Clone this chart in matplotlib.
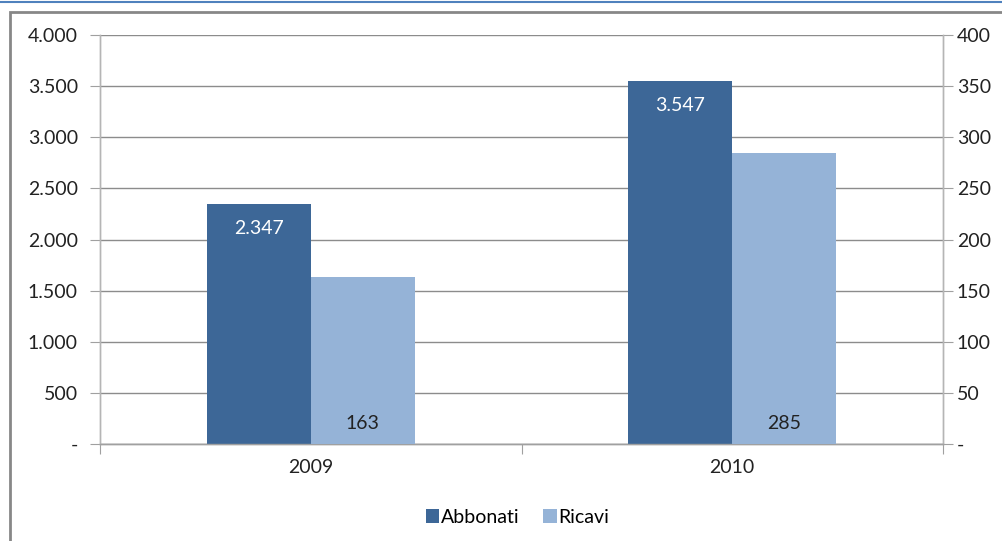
import matplotlib.pyplot as plt
import matplotlib.patches as patches
from matplotlib.ticker import FuncFormatter, MultipleLocator
import numpy as np

plt.rcParams['font.family'] = ['Lato', 'DejaVu Sans']

years = ['2009', '2010']
abbonati = [2347, 3547]
ricavi = [163, 285]

col_abb = '#3d6797'
col_ric = '#95b3d7'
grid_col = '#8c8c8c'
fs = 14


def fmt_it(v, pos):
    if abs(v) < 1e-9:
        return '-'
    return f'{v:,.0f}'.replace(',', '.')


fig = plt.figure(figsize=(10.03, 5.41), dpi=100)
ax = fig.add_axes([0.0997, 0.1793, 0.8405, 0.756])
ax2 = ax.twinx()

x = np.arange(len(years))
w = 0.247
b1 = ax.bar(x - w / 2, abbonati, w, color=col_abb, label='Abbonati', zorder=3)
b2 = ax2.bar(x + w / 2, ricavi, w, color=col_ric, label='Ricavi', zorder=3)

ax.set_xlim(-0.5, len(years) - 0.5)
ax.set_ylim(0, 4000)
ax2.set_ylim(0, 400)
ax.yaxis.set_major_locator(MultipleLocator(500))
ax2.yaxis.set_major_locator(MultipleLocator(50))
ax.yaxis.set_major_formatter(FuncFormatter(fmt_it))
ax2.yaxis.set_major_formatter(FuncFormatter(fmt_it))
ax.yaxis.grid(True, color=grid_col, linewidth=1, zorder=0)
ax.set_axisbelow(True)

ax.set_xticks([-0.5, 0.5, 1.5], minor=False)
ax.set_xticklabels([])
ax.set_xticks(x, minor=True)
ax.set_xticklabels(years, minor=True)
ax.tick_params(axis='x', which='major', length=7, color='#a0a0a0', direction='out')
ax.tick_params(axis='x', which='minor', length=0, labelsize=fs, pad=11, colors='#222222')
ax.tick_params(axis='y', length=7, color='#a0a0a0', labelsize=fs, pad=9, colors='#222222')
ax2.tick_params(axis='y', length=7, color='#a0a0a0', labelsize=fs, pad=3, colors='#222222')

for a in (ax, ax2):
    a.spines['top'].set_visible(False)
    a.spines['left'].set_color('#b5b5b5')
    a.spines['right'].set_color('#b5b5b5')
    a.spines['bottom'].set_color('#a0a0a0')
    for s in a.spines.values():
        s.set_linewidth(1)

for rect, v in zip(b1, abbonati):
    ax.annotate(fmt_it(v, None), (rect.get_x() + rect.get_width() / 2, v),
                xytext=(0, -17.5), textcoords='offset points', ha='center', va='center',
                color='white', fontsize=fs, zorder=4)
for rect, v in zip(b2, ricavi):
    ax2.annotate(fmt_it(v, None), (rect.get_x() + rect.get_width() / 2, 0),
                 xytext=(0, 14.4), textcoords='offset points', ha='center', va='center',
                 color='#222222', fontsize=fs, zorder=4)

fig.legend([b1, b2], ['Abbonati', 'Ricavi'], loc='center', bbox_to_anchor=(0.516, 0.044),
           ncol=2, frameon=False, fontsize=fs, handlelength=0.7, handleheight=0.7,
           handletextpad=0.1, columnspacing=1.2)

# outer frame and top blue rule
fig.add_artist(patches.Rectangle((10 / 1003, -0.1), 1.2, 1.1 - 12 / 541,
                                 transform=fig.transFigure, fill=False,
                                 edgecolor='#878787', linewidth=2))
fig.add_artist(plt.Line2D([0, 1], [1 - 2 / 541, 1 - 2 / 541], transform=fig.transFigure,
                          color='#4f81bd', linewidth=1.5))

fig.savefig('out.png', dpi=100)
